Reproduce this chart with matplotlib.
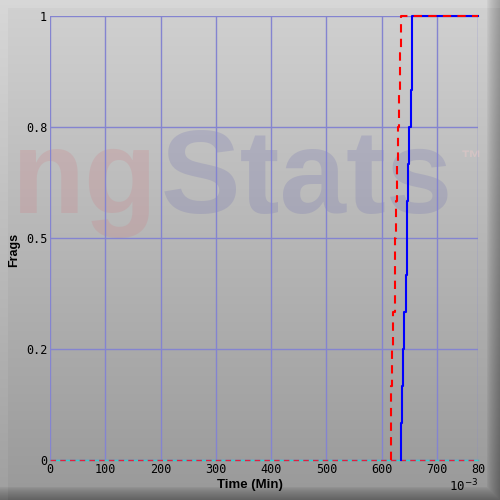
import matplotlib
matplotlib.use('Agg')
import matplotlib.pyplot as plt
import numpy as np

# CDF of frag times (x in 10^-3 min)
frac = [1/12, 2/12, 3/12, 4/12, 5/12, 6/12, 7/12, 8/12, 9/12, 10/12, 11/12, 1.0]
red_times = [616, 617, 619, 621, 623, 624, 626, 628, 630, 631, 633, 635]
blue_times = [635, 637, 639, 641, 643, 645, 646, 648, 650, 652, 654, 655]

x_max = 774
x_ticks = [0, 100, 200, 300, 400, 500, 600, 700, x_max]
x_labels = ['0', '100', '200', '300', '400', '500', '600', '700', '80']
y_ticks = [0, 0.25, 0.5, 0.75, 1.0]
y_labels = ['0', '0.2', '0.5', '0.8', '1']

fig = plt.figure(figsize=(5, 5), dpi=100)

# background panel with bevel
bg = fig.add_axes([0, 0, 1, 1])
bg.set_xlim(0, 500)
bg.set_ylim(500, 0)
bg.axis('off')
yy, xx = np.mgrid[0:500, 0:500]
shade = 0.82 - 0.22 * yy / 500.0
shade = np.where((xx < 8) | (yy < 8), shade + 0.025, shade)
edge = np.maximum((xx - 486) / 14.0, (yy - 486) / 14.0)
shade = np.where(edge > 0, shade - 0.22 * np.clip(edge, 0, 1) ** 0.7, shade)
rgb = np.dstack([shade, shade, shade]).clip(0, 1)
bg.imshow(rgb, extent=(0, 500, 500, 0), aspect='auto', interpolation='bilinear')

# watermark
bg.text(12, 213, 'ng', fontsize=86, fontweight='bold', family='Liberation Sans',
        color='#d07880', alpha=0.22, va='baseline', ha='left')
bg.text(161, 213, 'Stats', fontsize=86, fontweight='bold', family='Liberation Sans',
        color='#6a6ab0', alpha=0.22, va='baseline', ha='left')
bg.text(461, 165, '™', fontsize=15, fontweight='bold', family='Liberation Sans',
        color='#e8c8c8', alpha=0.5, va='baseline', ha='left')

ax = fig.add_axes([0.1, 0.08, 0.856, 0.888])
ax.patch.set_alpha(0)

grid_color = '#8484d0'
for t in x_ticks:
    ax.axvline(t, color=grid_color, lw=1, zorder=1)
for t in y_ticks:
    ax.axhline(t, color=grid_color, lw=1, zorder=1)

# baseline: cyan with thin red dashes
ax.plot([0, x_max], [0, 0], color='#30d0d0', lw=1.0, zorder=2, clip_on=False)
ax.plot([0, x_max], [0, 0], color='#e02040', lw=1.0, ls=(0, (4, 3)), zorder=2,
        clip_on=False)
ax.plot(blue_times + [x_max], [0] + frac, color='#0000ff', lw=1.5,
        drawstyle='steps-pre', zorder=3, clip_on=False)
ax.plot(red_times + [x_max], [0] + frac, color='#ff0000', lw=1.5,
        ls=(0, (4, 3)), drawstyle='steps-pre', zorder=4, clip_on=False)

ax.set_xlim(0, x_max)
ax.set_ylim(0, 1)
for s in ax.spines.values():
    s.set_visible(False)
ax.set_xticks(x_ticks)
ax.set_xticklabels(x_labels, family='DejaVu Sans Mono', fontsize=8.5)
ax.set_yticks(y_ticks)
ax.set_yticklabels(y_labels, family='DejaVu Sans Mono', fontsize=8.5)
ax.tick_params(length=0, pad=2)

fig.text(0.028, 0.5, 'Frags', rotation=90, fontweight='bold', fontsize=9,
         ha='center', va='center', family='Liberation Sans')
fig.text(0.5, 0.03, 'Time (Min)', fontweight='bold', fontsize=9.5,
         ha='center', va='center', family='Liberation Sans')
fig.text(0.898, 0.027, r'10$^{-3}$', fontsize=9, ha='left', va='center',
         family='DejaVu Sans Mono')

fig.savefig('out.png', dpi=100)
